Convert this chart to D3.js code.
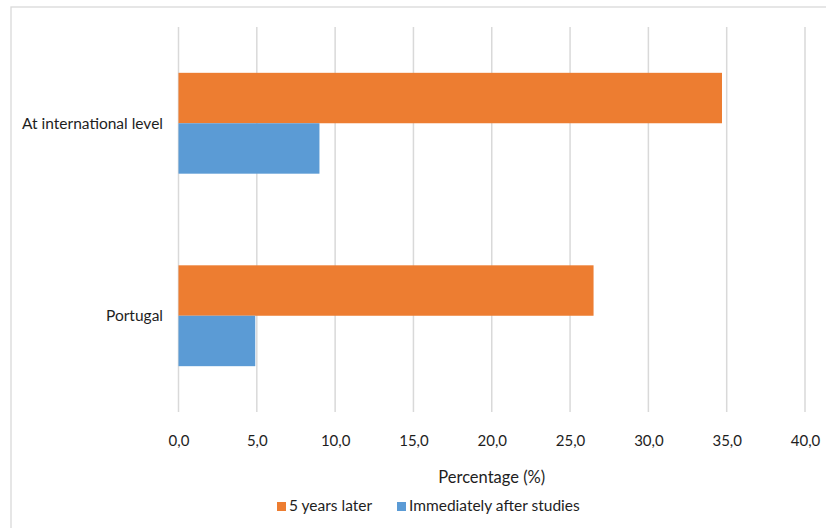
<!DOCTYPE html>
<html>
<head>
<meta charset="utf-8">
<script src="https://cdn.jsdelivr.net/npm/d3@7"></script>
<style>
  html, body { margin: 0; padding: 0; background: #fff; }
  svg { display: block; }
  text { font-family: "Lato", "Liberation Sans", sans-serif; fill: #1e1e1e; }
</style>
</head>
<body>
<svg id="chart" width="826" height="528"></svg>
<script>
// Categories top to bottom, and the two series drawn for each
const categories = ["At international level", "Portugal"];
const seriesNames = ["5 years later", "Immediately after studies"];
const fiveYearsLater = [34.7, 26.5];
const immediatelyAfter = [9.0, 4.9];
const xTicks = [0, 5, 10, 15, 20, 25, 30, 35, 40];
const xTitle = "Percentage (%)";

const colors = { "5 years later": "#ED7D31", "Immediately after studies": "#5B9BD5" };

const rows = categories.map((c, i) => ({
  category: c,
  values: [
    { series: seriesNames[0], value: fiveYearsLater[i] },
    { series: seriesNames[1], value: immediatelyAfter[i] }
  ]
}));

const svg = d3.select("#chart");
const plot = { left: 178.5, right: 805, top: 27, bottom: 412 };

// outer chart frame
svg.append("rect")
  .attr("x", 11).attr("y", 7).attr("width", 840).attr("height", 560)
  .attr("fill", "none").attr("stroke", "#D9D9D9").attr("stroke-width", 1.3);

const x = d3.scaleLinear().domain([0, 40]).range([plot.left, plot.right]);
const y = d3.scaleBand().domain(categories).range([plot.top, plot.bottom])
  .paddingInner(0.476).paddingOuter(0.238);
const ySub = d3.scaleBand().domain(seriesNames).range([0, y.bandwidth()]).padding(0);

// vertical gridlines
svg.append("g").selectAll("line").data(xTicks).join("line")
  .attr("x1", d => x(d)).attr("x2", d => x(d))
  .attr("y1", plot.top).attr("y2", plot.bottom)
  .attr("stroke", "#D9D9D9").attr("stroke-width", 1.5);

// bars
svg.append("g").selectAll("g").data(rows).join("g")
  .attr("transform", d => `translate(0,${y(d.category)})`)
  .selectAll("rect").data(d => d.values).join("rect")
  .attr("x", x(0))
  .attr("y", d => ySub(d.series))
  .attr("width", d => x(d.value) - x(0))
  .attr("height", ySub.bandwidth())
  .attr("fill", d => colors[d.series]);

// x axis tick labels
const fmt = v => d3.format(".1f")(v).replace(".", ",");
const xAxis = d3.axisBottom(x).tickValues(xTicks).tickFormat(fmt).tickSize(0).tickPadding(0);
const gx = svg.append("g").attr("transform", `translate(0,${plot.bottom})`).call(xAxis);
gx.select(".domain").remove();
gx.selectAll("text")
  .attr("y", 34).attr("dy", null)
  .style("font-family", "Lato, 'Liberation Sans', sans-serif")
  .style("font-size", "15px").style("fill", "#1e1e1e");

// category labels
const yAxis = d3.axisLeft(y).tickSize(0).tickPadding(0);
const gy = svg.append("g").attr("transform", "translate(163,0)").call(yAxis);
gy.select(".domain").remove();
gy.selectAll("text")
  .attr("dy", "0.35em")
  .style("font-family", "Lato, 'Liberation Sans', sans-serif")
  .style("font-size", "15.5px").style("fill", "#1e1e1e");

// axis title
svg.append("text")
  .attr("x", (plot.left + plot.right) / 2).attr("y", 483)
  .attr("text-anchor", "middle")
  .style("font-size", "16.5px")
  .text(xTitle);

// legend
const legendItems = [
  { name: seriesNames[0], sx: 277, tx: 289 },
  { name: seriesNames[1], sx: 397, tx: 409 }
];
const lg = svg.append("g");
lg.selectAll("rect").data(legendItems).join("rect")
  .attr("x", d => d.sx).attr("y", 502).attr("width", 9).attr("height", 9)
  .attr("fill", d => colors[d.name]);
lg.selectAll("text").data(legendItems).join("text")
  .attr("x", d => d.tx).attr("y", 511)
  .style("font-size", "15.5px")
  .text(d => d.name);
</script>
</body>
</html>
